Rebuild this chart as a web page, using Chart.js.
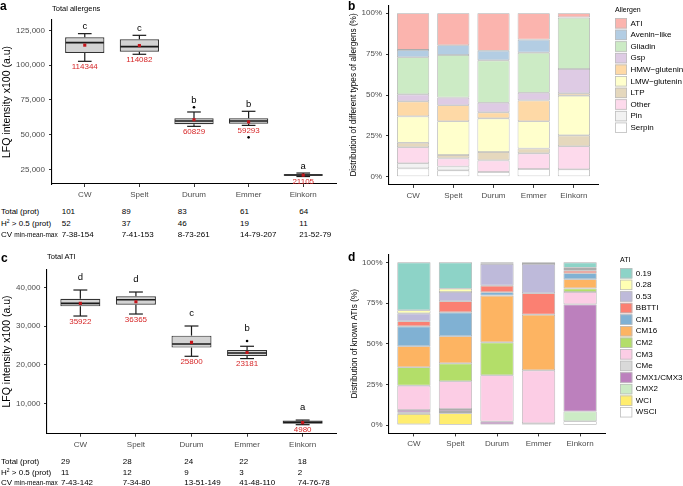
<!DOCTYPE html>
<html lang="en">
<head>
<meta charset="UTF-8">
<title>Allergens and ATIs in five wheat species</title>
<script src="https://cdn.jsdelivr.net/npm/chart.js@4.4.0/dist/chart.umd.min.js"></script>
<style>
  html, body { margin: 0; padding: 0; background: #fff; }
  body {
    position: relative;
    width: 683px;
    height: 486px;
    overflow: hidden;
    font-family: "Liberation Sans", Arial, sans-serif;
  }
  canvas { position: absolute; }
  .txt {
    position: absolute;
    white-space: nowrap;
    line-height: 1;
    color: #000;
    transform: translateY(-50%);
  }
  .tag { font-weight: bold; font-size: 12px; }
  .ptitle { font-size: 7.5px; }
  .tbl { font-size: 8px; }
  .tbl sup { font-size: 5px; line-height: 0; vertical-align: 3px; }
  .tbl .sm { font-size: 6.5px; }
</style>
</head>
<body>
<canvas id="chartA" width="340" height="200" style="left:0;top:0"></canvas>
<canvas id="chartB" width="343" height="200" style="left:340px;top:0"></canvas>
<canvas id="chartC" width="340" height="246" style="left:0;top:240px"></canvas>
<canvas id="chartD" width="343" height="246" style="left:340px;top:240px"></canvas>

<div class="txt tag" style="left:0;top:6px">a</div>
<div class="txt tag" style="left:348px;top:6px">b</div>
<div class="txt tag" style="left:1px;top:258px">c</div>
<div class="txt tag" style="left:348px;top:257px">d</div>
<div class="txt ptitle" style="left:52px;top:8.5px">Total allergens</div>
<div class="txt ptitle" style="left:47px;top:257px">Total ATI</div>

<script>
const FONT = '"Liberation Sans", Arial, sans-serif';

// ---- shared categories ----
const cultivars = ['CW', 'Spelt', 'Durum', 'Emmer', 'Einkorn'];

// ---- panel a: total allergens (LFQ intensity x100), box summaries ----
const allergenMin = [102750, 107800, 56100, 56800, 20100];
const allergenQ1 = [108700, 109700, 57550, 58000, 20600];
const allergenMedian = [116150, 113300, 59950, 59900, 21150];
const allergenQ3 = [120000, 118500, 61850, 61850, 21700];
const allergenMax = [122600, 121400, 66400, 66900, 22600];
const allergenMean = [114344, 114082, 60829, 59293, 21105];
const allergenOutliers = [[], [], [69750], [48200], []];
const allergenLetters = ['c', 'c', 'b', 'b', 'a'];
const allergenTicks = [25000, 50000, 75000, 100000, 125000];
const allergenTotal = [101, 89, 83, 61, 64];
const allergenH2 = [52, 37, 46, 19, 11];
const allergenCV = ['7-38-154', '7-41-153', '8-73-261', '14-79-207', '21-52-79'];

// ---- panel c: total ATI ----
const atiMin = [32650, 33170, 22200, 21600, 4450];
const atiQ1 = [35160, 35600, 24450, 22290, 4660];
const atiMedian = [35940, 36890, 25400, 23050, 5100];
const atiQ3 = [37150, 37750, 27560, 23840, 5530];
const atiMax = [39400, 38880, 30060, 24800, 5650];
const atiMean = [35922, 36365, 25800, 23181, 4980];
const atiOutliers = [[], [], [], [26180], []];
const atiLetters = ['d', 'd', 'c', 'b', 'a'];
const atiTicks = [10000, 20000, 30000, 40000];
const atiTotal = [29, 28, 24, 22, 18];
const atiH2 = [11, 12, 9, 3, 2];
const atiCV = ['7-43-142', '7-34-80', '13-51-149', '41-48-110', '74-76-78'];

// ---- panel b: share of allergen types (%), order as in legend ----
const allergenTypes = ['ATI', 'Avenin\u2212like', 'Gliadin', 'Gsp', 'HMW\u2212glutenin',
  'LMW\u2212glutenin', 'LTP', 'Other', 'Pin', 'Serpin'];
const allergenShareCW = [22.4, 4.5, 22.7, 4.3, 9.2, 16.1, 2.8, 9.8, 3.1, 5.1];
const allergenShareSpelt = [19.6, 5.9, 26.1, 4.7, 9.8, 20.6, 2.1, 4.9, 2.4, 3.9];
const allergenShareDurum = [22.9, 5.9, 25.9, 5.9, 3.7, 20.6, 5.1, 7.1, 0, 2.9];
const allergenShareEmmer = [16.1, 8.0, 24.5, 4.7, 12.8, 16.6, 3.0, 9.6, 0, 4.7];
const allergenShareEinkorn = [2.4, 0.3, 31.4, 14.9, 1.4, 24.3, 6.7, 14.1, 0, 4.5];

// ---- panel d: share of known ATIs (%), order as in legend ----
const atiTypes = ['0.19', '0.28', '0.53', 'BBTTI', 'CM1', 'CM16', 'CM2', 'CM3', 'CMe',
  'CMX1/CMX3', 'CMX2', 'WCI', 'WSCI'];
const atiShareCW = [29.4, 1.9, 4.9, 3.1, 12.2, 12.9, 11.3, 14.9, 0, 1.4, 1.0, 6.4, 0.6];
const atiShareSpelt = [16.2, 2.0, 5.7, 6.8, 14.7, 16.6, 11.0, 17.0, 0.6, 1.2, 0.8, 7.4, 0];
const atiShareDurum = [0.6, 0.4, 13.3, 4.1, 2.0, 28.7, 20.2, 28.5, 0, 1.6, 0, 0, 0.6];
const atiShareEmmer = [0, 1.0, 18.0, 13.1, 0, 34.2, 0, 32.5, 0, 0.8, 0, 0, 0.4];
const atiShareEinkorn = [3.3, 0.8, 1.0, 1.6, 3.7, 5.6, 2.2, 7.6, 0, 65.8, 5.9, 0, 2.5];
const percentTicks = [0, 25, 50, 75, 100];

// palettes (ColorBrewer Pastel1 / Set3)
const allergenColors = ['#FBB4AE', '#B3CDE3', '#CCEBC5', '#DECBE4', '#FED9A6',
  '#FFFFCC', '#E5D8BD', '#FDDAEC', '#F2F2F2', '#FFFFFF'];
const atiColors = ['#8DD3C7', '#FFFFB3', '#BEBADA', '#FB8072', '#80B1D3', '#FDB462',
  '#B3DE69', '#FCCDE5', '#D9D9D9', '#BC80BD', '#CCEBC5', '#FFED6F', '#FFFFFF'];

// ---- helpers ----
const fixY = w => s => { s.width = w; s.paddingTop = 0; s.paddingBottom = 0; };
const fixX = h => s => { s.height = h; s.paddingLeft = 0; s.paddingRight = 0; };

function axisStyle() {
  return {
    grid: { display: true, drawOnChartArea: false, drawTicks: true, tickLength: 3,
            tickColor: '#333', lineWidth: 1, offset: false },
    border: { display: true, color: '#000', width: 1.1 }
  };
}

function xAxis(height) {
  return {
    type: 'linear', min: 0.4, max: 5.6, offset: false, stacked: true,
    afterBuildTicks: s => { s.ticks = cultivars.map((c, i) => ({ value: i + 1 })); },
    afterFit: fixX(height),
    ...axisStyle(),
    ticks: { padding: 3, color: '#4D4D4D', font: { size: 8, family: FONT },
             autoSkip: false, maxRotation: 0,
             callback: v => cultivars[Math.round(v) - 1] }
  };
}

function line(ctx, x1, y1, x2, y2) {
  ctx.beginPath(); ctx.moveTo(x1, y1); ctx.lineTo(x2, y2); ctx.stroke();
}

// whiskers, medians, letters and mean labels of a box plot
function boxPlugin(s) {
  return {
    id: 'boxAnnot',
    afterDatasetDraw(chart, args) {
      if (args.meta.type !== 'bar') return;
      const { ctx } = chart, x = chart.scales.x, y = chart.scales.y;
      ctx.save();
      ctx.strokeStyle = '#1a1a1a';
      s.q1.forEach((q1, i) => {
        const cx = x.getPixelForValue(i + 1);
        const l = x.getPixelForValue(i + 1 - 0.125), r = x.getPixelForValue(i + 1 + 0.125);
        const half = args.meta.data[i].width / 2;
        const yMax = y.getPixelForValue(s.max[i]), yMin = y.getPixelForValue(s.min[i]);
        ctx.lineWidth = 1.2;
        line(ctx, cx, y.getPixelForValue(s.q3[i]), cx, yMax);
        line(ctx, l, yMax, r, yMax);
        line(ctx, cx, y.getPixelForValue(q1), cx, yMin);
        line(ctx, l, yMin, r, yMin);
        ctx.lineWidth = 1.6;
        const yMed = y.getPixelForValue(s.median[i]);
        line(ctx, cx - half + 0.6, yMed, cx + half - 0.6, yMed);
      });
      ctx.restore();
    },
    afterDatasetsDraw(chart) {
      const { ctx } = chart, x = chart.scales.x, y = chart.scales.y;
      ctx.save();
      ctx.textAlign = 'center';
      s.mean.forEach((m, i) => {
        const cx = x.getPixelForValue(i + 1);
        const top = Math.max(s.max[i], ...s.outliers[i]);
        ctx.fillStyle = '#000';
        ctx.font = `9.5px ${FONT}`;
        ctx.textBaseline = 'middle';
        ctx.fillText(s.letters[i], cx, y.getPixelForValue(top) - s.letterGap);
        ctx.fillStyle = '#D62728';
        ctx.font = `8px ${FONT}`;
        ctx.textBaseline = 'top';
        ctx.fillText(String(m), cx, y.getPixelForValue(s.min[i]) + 1.5);
      });
      ctx.restore();
    }
  };
}

function makeBoxChart(id, s, L) {
  return new Chart(document.getElementById(id), {
    type: 'bar',
    data: {
      datasets: [
        { type: 'scatter', label: 'Mean', data: s.mean.map((v, i) => ({ x: i + 1, y: v })),
          pointStyle: 'rect', radius: 2.2, backgroundColor: '#C4161C', borderWidth: 0 },
        { type: 'scatter', label: 'Outlier',
          data: s.outliers.flatMap((a, i) => a.map(v => ({ x: i + 1, y: v }))),
          radius: 1.3, backgroundColor: '#000', borderWidth: 0 },
        { type: 'bar', label: 'IQR',
          data: s.q1.map((v, i) => ({ x: i + 1, y: [v, s.q3[i]] })),
          backgroundColor: '#D3D3D3', borderColor: '#333', borderWidth: 1.2,
          borderSkipped: false, categoryPercentage: 0.8, barPercentage: 0.9 }
      ]
    },
    options: {
      responsive: false,
      animation: false,
      layout: { padding: { left: 0, top: L.top, right: L.right, bottom: L.bottom } },
      plugins: { legend: { display: false }, tooltip: { enabled: false } },
      scales: {
        x: { ...xAxis(16), stacked: false },
        y: {
          min: L.min, max: L.max,
          afterBuildTicks: sc => { sc.ticks = s.ticks.map(v => ({ value: v })); },
          afterFit: fixY(L.yWidth),
          ...axisStyle(),
          ticks: { padding: L.tickPad, color: '#4D4D4D', font: { size: 8, family: FONT },
                   callback: v => v.toLocaleString('en-US') },
          title: { display: true, text: 'LFQ intensity x100 (a.u)', color: '#000',
                   font: { size: 10.5, family: FONT }, padding: { top: 1, bottom: 0 } }
        }
      }
    },
    plugins: [boxPlugin(s)]
  });
}

// legend drawn beside a stacked bar chart
function legendPlugin(g) {
  return {
    id: 'sideLegend',
    afterDraw(chart) {
      const { ctx } = chart;
      const items = chart.data.datasets.slice().reverse();
      ctx.save();
      ctx.textAlign = 'left';
      ctx.textBaseline = 'middle';
      ctx.fillStyle = '#000';
      ctx.font = `7px ${FONT}`;
      ctx.fillText(g.title, g.x, g.titleY);
      ctx.font = `8px ${FONT}`;
      items.forEach((ds, i) => {
        const cy = g.y + i * g.step;
        ctx.fillStyle = ds.backgroundColor;
        ctx.fillRect(g.x, cy - g.step / 2 + 0.6, g.box, g.step - 1.2);
        ctx.strokeStyle = '#BDBDBD';
        ctx.lineWidth = 0.8;
        ctx.strokeRect(g.x + 0.4, cy - g.step / 2 + 1, g.box - 0.8, g.step - 2);
        ctx.fillStyle = '#000';
        ctx.fillText(ds.label, g.x + g.box + 3.5, cy);
      });
      ctx.restore();
    }
  };
}

function makeStackChart(id, types, rows, colors, title, L, g) {
  // reverse so that the last legend entry sits at the bottom of each stack
  const datasets = types.map((t, k) => ({
    label: t,
    data: rows.map((row, i) => ({ x: i + 1, y: row[k] })),
    backgroundColor: colors[k],
    borderColor: 'rgba(70,70,70,0.45)',
    borderWidth: 0.8,
    borderSkipped: false,
    categoryPercentage: 1,
    barPercentage: 0.8
  })).reverse();
  return new Chart(document.getElementById(id), {
    type: 'bar',
    data: { datasets },
    options: {
      responsive: false,
      animation: false,
      layout: { padding: { left: 0, top: L.top, right: L.right, bottom: L.bottom } },
      plugins: { legend: { display: false }, tooltip: { enabled: false } },
      scales: {
        x: xAxis(L.xHeight),
        y: {
          stacked: true, min: -5, max: 105,
          afterBuildTicks: sc => { sc.ticks = percentTicks.map(v => ({ value: v })); },
          afterFit: fixY(49),
          ...axisStyle(),
          ticks: { padding: L.tickPad, color: '#4D4D4D', font: { size: 8, family: FONT },
                   callback: v => v + '%' },
          title: { display: true, text: title, color: '#000',
                   font: { size: 8.2, family: FONT }, padding: { top: L.titlePad, bottom: 0 } }
        }
      }
    },
    plugins: [legendPlugin(g)]
  });
}

// ---- text tables under the box plots ----
function addText(html, left, cy, cls) {
  const el = document.createElement('div');
  el.className = 'txt ' + cls;
  el.style.left = left + 'px';
  el.style.top = cy + 'px';
  el.innerHTML = html;
  document.body.appendChild(el);
}

function addTable(rowY, cols, total, h2, cv) {
  const labels = ['Total (prot)', 'H<sup>2</sup> &gt; 0.5 (prot)',
    'CV <span class="sm">min-mean-max</span>'];
  [total, h2, cv].forEach((vals, r) => {
    addText(labels[r], 1, rowY[r], 'tbl');
    vals.forEach((v, i) => addText(String(v), cols[i], rowY[r], 'tbl'));
  });
}

// ---- build ----
makeBoxChart('chartA', {
  min: allergenMin, q1: allergenQ1, median: allergenMedian, q3: allergenQ3, max: allergenMax,
  mean: allergenMean, outliers: allergenOutliers, letters: allergenLetters,
  ticks: allergenTicks, letterGap: 7
}, { top: 20, right: 3, bottom: 0, yWidth: 52, min: 14740, max: 132390, tickPad: 4 });

makeBoxChart('chartC', {
  min: atiMin, q1: atiQ1, median: atiMedian, q3: atiQ3, max: atiMax,
  mean: atiMean, outliers: atiOutliers, letters: atiLetters,
  ticks: atiTicks, letterGap: 13
}, { top: 29.3, right: 3, bottom: 36.3, yWidth: 47, min: 2110, max: 44775, tickPad: 3.5 });

makeStackChart('chartB', allergenTypes,
  [allergenShareCW, allergenShareSpelt, allergenShareDurum, allergenShareEmmer, allergenShareEinkorn],
  allergenColors, 'Distribution of different types of allergens (%)',
  { top: 5.1, right: 85, bottom: 0, xHeight: 15.1, tickPad: 4, titlePad: 9 },
  { title: 'Allergen', x: 275, titleY: 10.3, y: 23.3, step: 11.6, box: 12 });

makeStackChart('chartD', atiTypes,
  [atiShareCW, atiShareSpelt, atiShareDurum, atiShareEmmer, atiShareEinkorn],
  atiColors, 'Distribution of known ATIs (%)',
  { top: 14.2, right: 78, bottom: 36.6, xHeight: 16, tickPad: 3.5, titlePad: 10 },
  { title: 'ATI', x: 280, titleY: 20, y: 33.3, step: 11.58, box: 12.3 });

addTable([212.3, 224, 234.7], [61.7, 121.7, 177.7, 240, 299.3],
  allergenTotal, allergenH2, allergenCV);
addTable([462.3, 473, 483.3], [61, 122.7, 184.3, 239.3, 297.7],
  atiTotal, atiH2, atiCV);
</script>
</body>
</html>
